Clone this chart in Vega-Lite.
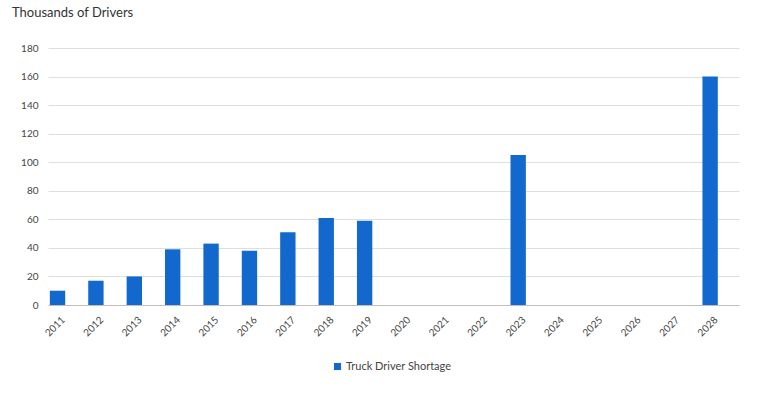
{
  "$schema": "https://vega.github.io/schema/vega-lite/v6.json",
  "width": 691,
  "height": 257,
  "autosize": {"type": "none"},
  "padding": {"left": 48, "top": 48, "right": 31, "bottom": 93},
  "background": "white",
  "title": {
    "text": "Thousands of Drivers",
    "anchor": "start",
    "frame": "group",
    "dx": -36,
    "offset": 23,
    "font": "Lato",
    "fontSize": 13,
    "fontWeight": "normal",
    "color": "#333333"
  },
  "data": {
    "values": [
      {"year": "2011", "shortage": 10},
      {"year": "2012", "shortage": 17},
      {"year": "2013", "shortage": 20},
      {"year": "2014", "shortage": 39},
      {"year": "2015", "shortage": 43},
      {"year": "2016", "shortage": 38},
      {"year": "2017", "shortage": 51},
      {"year": "2018", "shortage": 61},
      {"year": "2019", "shortage": 59},
      {"year": "2020", "shortage": null},
      {"year": "2021", "shortage": null},
      {"year": "2022", "shortage": null},
      {"year": "2023", "shortage": 105},
      {"year": "2024", "shortage": null},
      {"year": "2025", "shortage": null},
      {"year": "2026", "shortage": null},
      {"year": "2027", "shortage": null},
      {"year": "2028", "shortage": 160}
    ]
  },
  "mark": {"type": "bar"},
  "encoding": {
    "x": {
      "field": "year",
      "type": "ordinal",
      "scale": {
        "domain": ["2011","2012","2013","2014","2015","2016","2017","2018","2019","2020","2021","2022","2023","2024","2025","2026","2027","2028"],
        "paddingInner": 0.6,
        "paddingOuter": 0.3,
        "align": 0.08
      },
      "axis": {
        "title": null,
        "labelAngle": -45,
        "labelAlign": "right",
        "labelBaseline": "middle",
        "labelFont": "Lato",
        "labelFontSize": 10,
        "labelColor": "#444444",
        "labelPadding": 13,
        "labelOffset": 6,
        "ticks": false,
        "domainColor": "#bfbfbf",
        "domainWidth": 1,
        "grid": false
      }
    },
    "y": {
      "field": "shortage",
      "type": "quantitative",
      "scale": {"domain": [0, 180]},
      "axis": {
        "title": null,
        "values": [0,20,40,60,80,100,120,140,160,180],
        "labelFont": "Lato",
        "labelFontSize": 10,
        "labelColor": "#444444",
        "labelPadding": 10,
        "ticks": false,
        "domain": false,
        "grid": true,
        "gridColor": "#dedede",
        "gridWidth": 1
      }
    },
    "color": {
      "datum": "Truck Driver Shortage",
      "type": "nominal",
      "scale": {"range": ["#1368CE"]},
      "legend": {
        "title": null,
        "orient": "none",
        "legendX": 284,
        "legendY": 313,
        "symbolType": "square",
        "symbolSize": 50,
        "symbolStrokeWidth": 0,
        "labelFont": "Lato",
        "labelFontSize": 11,
        "labelOffset": 3,
        "labelColor": "#444444"
      }
    }
  },
  "config": {"view": {"stroke": null}}
}
